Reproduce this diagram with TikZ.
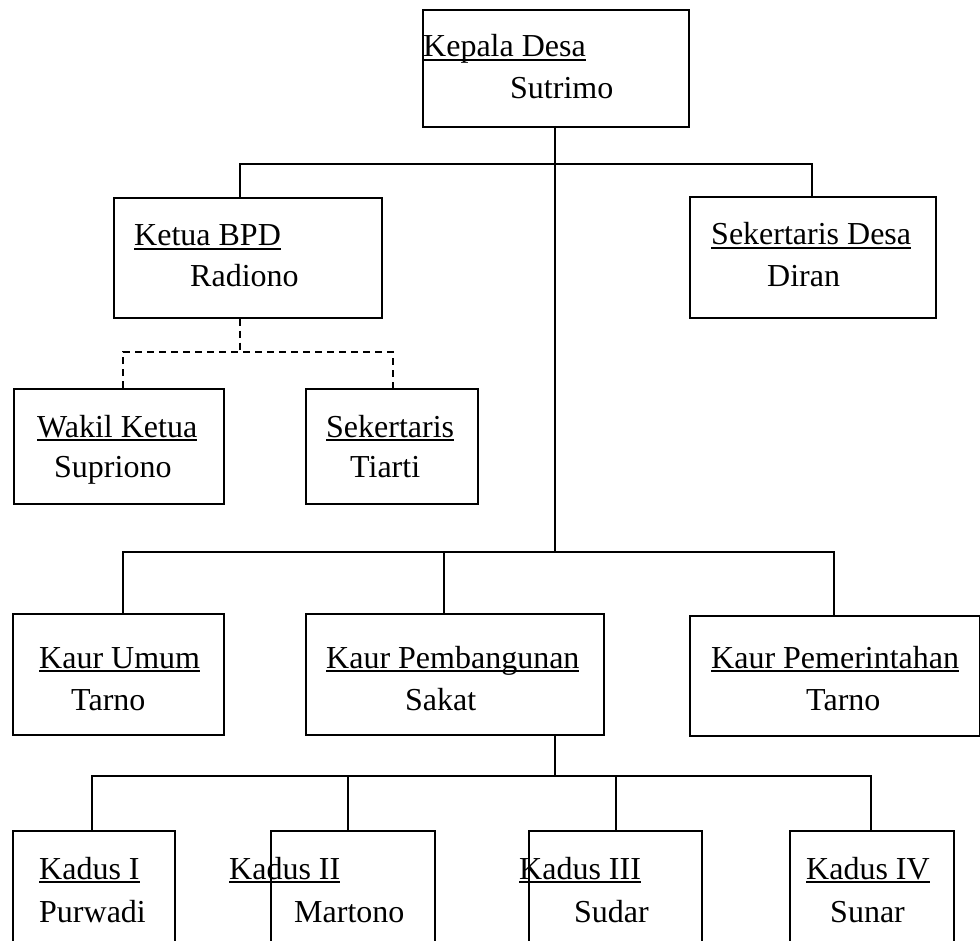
\documentclass[tikz,border=0pt]{standalone}
\usepackage{fontspec}
\setmainfont{Liberation Serif}
\newcommand\ulx[1]{\setbox0\hbox{#1}\rlap{\rule[-4pt]{\wd0}{1.8pt}}\box0}
\begin{document}
\begin{tikzpicture}[x=1pt,y=-1pt,
  box/.style={draw, line width=1.6pt, inner sep=0pt, anchor=north west},
  lbl/.style={inner sep=0pt, anchor=base west, font=\fontsize{32}{38}\selectfont},
  conn/.style={line width=1.6pt},
  dconn/.style={line width=1.6pt, dash pattern=on 7pt off 5pt}]
\useasboundingbox (0,0) rectangle (980,941);
\clip (0,0) rectangle (980,941);
% boxes
\node[box, minimum width=266pt, minimum height=117pt] (kd) at (422,9) {};
\node[box, minimum width=268pt, minimum height=120pt] (bpd) at (113,197) {};
\node[box, minimum width=246pt, minimum height=121pt] (sd) at (689,196) {};
\node[box, minimum width=210pt, minimum height=115pt] (wk) at (13,388) {};
\node[box, minimum width=172pt, minimum height=115pt] (sk) at (305,388) {};
\node[box, minimum width=211pt, minimum height=121pt] (ku) at (12,613) {};
\node[box, minimum width=298pt, minimum height=121pt] (kp) at (305,613) {};
\node[box, minimum width=290pt, minimum height=120pt] (kpm) at (689,615) {};
\node[box, minimum width=162pt, minimum height=140pt] (k1) at (12,830) {};
\node[box, minimum width=164pt, minimum height=140pt] (k2) at (270,830) {};
\node[box, minimum width=173pt, minimum height=140pt] (k3) at (528,830) {};
\node[box, minimum width=164pt, minimum height=140pt] (k4) at (789,830) {};
% texts
\node[lbl] (t1a) at (423,57) {\ulx{Kepala Desa}};
\node[lbl] (t1b) at (510,99) {Sutrimo};
\node[lbl] (t2a) at (134,246) {\ulx{Ketua BPD}};
\node[lbl] (t2b) at (190,287) {Radiono};
\node[lbl] (t3a) at (711,245) {\ulx{Sekertaris Desa}};
\node[lbl] (t3b) at (767,287) {Diran};
\node[lbl] (t4a) at (37,437) {\ulx{Wakil Ketua}};
\node[lbl] (t4b) at (54,477) {Supriono};
\node[lbl] (t5a) at (326,437) {\ulx{Sekertaris}};
\node[lbl] (t5b) at (350,477) {Tiarti};
\node[lbl] (t6a) at (39,668) {\ulx{Kaur Umum}};
\node[lbl] (t6b) at (71,710) {Tarno};
\node[lbl] (t7a) at (326,668) {\ulx{Kaur Pembangunan}};
\node[lbl] (t7b) at (405,710) {Sakat};
\node[lbl] (t8a) at (711,668) {\ulx{Kaur Pemerintahan}};
\node[lbl] (t8b) at (806,710) {Tarno};
\node[lbl] (t9a) at (39,879) {\ulx{Kadus I}};
\node[lbl] (t9b) at (39,922) {Purwadi};
\node[lbl] (t10a) at (229,879) {\ulx{Kadus II}};
\node[lbl] (t10b) at (294,922) {Martono};
\node[lbl] (t11a) at (519,879) {\ulx{Kadus III}};
\node[lbl] (t11b) at (574,922) {Sudar};
\node[lbl] (t12a) at (806,879) {\ulx{Kadus IV}};
\node[lbl] (t12b) at (830,922) {Sunar};
% junction coordinates
\coordinate (top) at (555,126);
\coordinate (bA) at (240,164);
\coordinate (bB) at (812,164);
\coordinate (bC) at (555,552);
\coordinate (dA) at (240,352);
\coordinate (dL) at (123,352);
\coordinate (dR) at (393,352);
\coordinate (cL) at (123,552);
\coordinate (cM) at (444,552);
\coordinate (cR) at (834,552);
\coordinate (pB) at (555,734);
\coordinate (eM) at (555,776);
\coordinate (e1) at (92,776);
\coordinate (e2) at (348,776);
\coordinate (e3) at (616,776);
\coordinate (e4) at (871,776);
% connectors
\draw[conn] (top) -- (bC);
\draw[conn] (bA |- bpd.north) -- (bA) -- (bB) -- (bB |- sd.north);
\draw[conn] (cL |- ku.north) -- (cL) -- (cR) -- (cR |- kpm.north);
\draw[conn] (cM) -- (cM |- kp.north);
\draw[dconn] (dA |- bpd.south) -- (dA);
\draw[dconn] (dL |- wk.north) -- (dL) -- (dR) -- (dR |- sk.north);
\draw[conn] (pB) -- (eM);
\draw[conn] (e1 |- k1.north) -- (e1) -- (e4) -- (e4 |- k4.north);
\draw[conn] (e2) -- (e2 |- k2.north);
\draw[conn] (e3) -- (e3 |- k3.north);
\end{tikzpicture}
\end{document}
